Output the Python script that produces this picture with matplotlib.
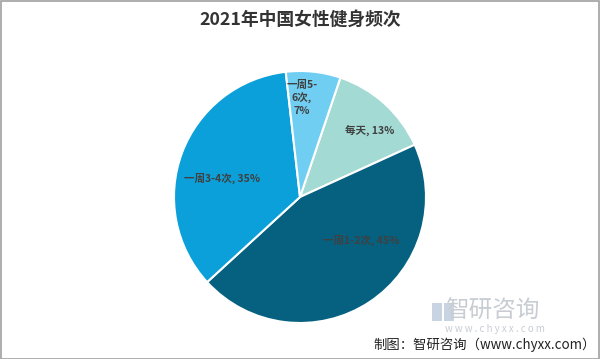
import matplotlib
matplotlib.use("Agg")
import matplotlib.pyplot as plt
from matplotlib.patches import Rectangle

plt.rcParams['font.family'] = ['Noto Sans CJK SC', 'DejaVu Sans']

categories = ["每天", "一周1-2次", "一周3-4次", "一周5-6次"]
values = [13, 45, 35, 7]
colors = ["#a3dad4", "#06607f", "#0ba0d9", "#70cef3"]
label_texts = ["每天, 13%", "一周1-2次, 45%", "一周3-4次, 35%", "一周5-\n6次,\n7%"]
title = "2021年中国女性健身频次"
source = "制图：智研咨询（www.chyxx.com）"

W, H = 600, 359
fig = plt.figure(figsize=(W / 100, H / 100), dpi=100)
fig.patch.set_facecolor("white")

# pie axes: center (300,197), radius 126 px
cx, cy, r = 300, 197, 126
ax = fig.add_axes([(cx - r) / W, 1 - (cy + r) / H, 2 * r / W, 2 * r / H])
wedges, _ = ax.pie(values, colors=colors, startangle=71.3, counterclock=False,
                   radius=1.0, wedgeprops=dict(edgecolor="white", linewidth=1.5))
ax.set_xlim(-1, 1)
ax.set_ylim(-1, 1)
ax.set_aspect("auto")
ax.axis("off")

# label positions (pixels)
label_pos = [(370, 130), (361, 240), (222, 178), (302, 98)]
for (px, py), txt in zip(label_pos, label_texts):
    fig.text(px / W, 1 - py / H, txt, ha="center", va="center",
             fontsize=7.6, fontweight="bold", color="#404040", linespacing=1.25)

fig.text(300 / W, 1 - 20 / H, title, ha="center", va="center",
         fontsize=12.8, fontweight="bold", color="#333333")

# watermark
fig.text(492 / W, 1 - 311 / H, "智研咨询", ha="center", va="center",
         fontsize=17, color="#c8cdd3")
fig.text(495 / W, 1 - 329 / H, "w w w . c h y x x . c o m", ha="center", va="center",
         fontsize=7, color="#c8cdd3")
fig.patches.append(Rectangle((432 / W, 1 - 321 / H), 10 / W, 18 / H,
                             transform=fig.transFigure, facecolor="#c8d4e2",
                             edgecolor="none"))
fig.patches.append(Rectangle((444 / W, 1 - 321 / H), 10 / W, 18 / H,
                             transform=fig.transFigure, facecolor="#c8d4e2",
                             edgecolor="none"))

fig.text(596 / W, 1 - 345 / H, source, ha="right", va="center",
         fontsize=9.6, color="#222222")

# border
fig.patches.append(Rectangle((0.5 / W, 0.5 / H), (W - 1.5) / W, (H - 1.5) / H,
                             transform=fig.transFigure, facecolor="none",
                             edgecolor="#a0a0a0", linewidth=1.2))

fig.savefig("out.png", dpi=100)
